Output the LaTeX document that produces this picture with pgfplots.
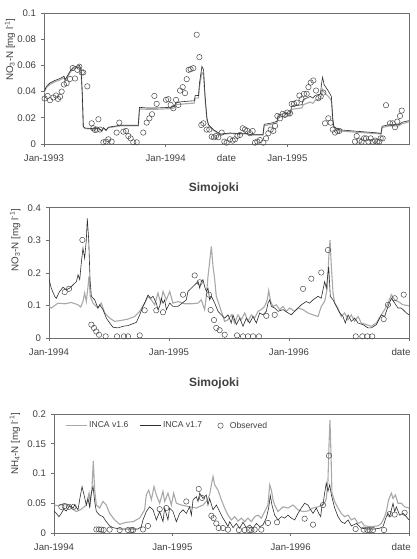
\documentclass[border=0pt]{standalone}
\usepackage{fontspec}
\setmainfont{Liberation Sans}
\usepackage{pgfplots}
\pgfplotsset{compat=1.18}
\definecolor{darkline}{HTML}{2E2E2E}
\definecolor{lightline}{HTML}{A9A9A9}
\definecolor{framec}{HTML}{6E6E6E}
\definecolor{obsc}{HTML}{4A4A4A}
\definecolor{txt}{HTML}{404040}
\pgfplotsset{
  myaxis/.style={
    scale only axis, anchor=south west,
    axis line style={framec, line width=0.6pt},
    tick style={framec, line width=0.6pt},
    tick align=outside, major tick length=3pt,
    xtick pos=bottom, ytick pos=left,
    minor tick num=0,
    scaled y ticks=false,
    tick label style={font=\fontsize{9.6}{11}\selectfont, text=txt},
    xticklabel style={yshift=-4.5pt},
    yticklabel style={xshift=-1.5pt},
    label style={font=\fontsize{9.8}{11}\selectfont, text=txt},
    xlabel={date},
    xlabel style={anchor=south},
  },
  v16/.style={lightline, line width=1.1pt, no markers,
    legend image code/.code={\draw[##1] (0cm,0cm) -- (0.74cm,0cm);}},
  v17/.style={darkline, line width=0.6pt, no markers,
    legend image code/.code={\draw[##1] (0cm,0cm) -- (0.74cm,0cm);}},
  obs/.style={only marks, mark=o, mark size=2.7pt, mark options={obsc, line width=0.5pt},
    legend image code/.code={\path (0cm,0cm) (0.5cm,0cm); \draw[##1] plot coordinates {(0.25cm,0cm)};}},
}
\begin{document}
\begin{tikzpicture}
\useasboundingbox (0,0) rectangle (416pt,559pt);
% ---------------- Panel 1 ----------------
\begin{axis}[myaxis, at={(44pt,415pt)}, width=365pt, height=131pt,
  xmin=1993, xmax=1996, ymin=0, ymax=0.1,
  xtick={1993,1994,1995}, xticklabels={Jan-1993,Jan-1994,Jan-1995},
  ytick={0,0.02,0.04,0.06,0.08,0.1}, yticklabels={0,0.02,0.04,0.06,0.08,0.1},
  xlabel style={at={(xticklabel cs:0.5)}},
  ylabel={NO\textsubscript{3}-N [mg l\textsuperscript{-1}]},
  ylabel style={at={(axis description cs:-0.093,0.72)}, anchor=center},
]
\addplot[v16] coordinates {
(1993.000,0.039) (1993.02,0.0430) (1993.049,0.0455) (1993.09,0.0475) (1993.132,0.0490) (1993.165,0.0505) (1993.173,0.0480) (1993.214,0.0545) (1993.241,0.0575) (1993.269,0.0582) (1993.291,0.0588) (1993.305,0.0560) (1993.315,0.0370) (1993.323,0.0130) (1993.337,0.0118) (1993.406,0.0113) (1993.447,0.0118) (1993.475,0.0100) (1993.49,0.0120) (1993.51,0.0102) (1993.529,0.0124) (1993.626,0.0138) (1993.775,0.0138) (1993.785,0.0268) (1993.845,0.0265) (1993.928,0.0265) (1994.037,0.0270) (1994.070,0.0275) (1994.085,0.0300) (1994.174,0.0308) (1994.235,0.0312) (1994.243,0.0350) (1994.270,0.0350) (1994.278,0.0440) (1994.298,0.0545) (1994.311,0.0530) (1994.325,0.0335) (1994.339,0.0190) (1994.352,0.0140) (1994.393,0.0104) (1994.449,0.0072) (1994.531,0.0080) (1994.60,0.0076) (1994.65,0.0078) (1994.70,0.0069) (1994.80,0.0069) (1994.81,0.0140) (1994.87,0.0150) (1994.915,0.0162) (1994.925,0.0205) (1995.025,0.0215) (1995.035,0.0265) (1995.121,0.0275) (1995.130,0.0300) (1995.189,0.0320) (1995.21,0.0310) (1995.230,0.0335) (1995.272,0.0345) (1995.282,0.0380) (1995.290,0.0415) (1995.302,0.0395) (1995.340,0.0360) (1995.362,0.0330) (1995.373,0.0190) (1995.381,0.0128) (1995.422,0.0100) (1995.533,0.0092) (1995.642,0.0085) (1995.751,0.0078) (1995.770,0.0075) (1995.779,0.0125) (1995.834,0.0138) (1995.916,0.0138) (1995.944,0.0155) (1995.998,0.0168)
};
\addplot[v17] coordinates {
(1993.000,0.040) (1993.02,0.0440) (1993.049,0.0466) (1993.09,0.0485) (1993.132,0.0500) (1993.165,0.0517) (1993.173,0.0490) (1993.214,0.0555) (1993.241,0.0586) (1993.269,0.0593) (1993.291,0.0600) (1993.305,0.0567) (1993.315,0.0376) (1993.323,0.0135) (1993.337,0.0122) (1993.406,0.0117) (1993.447,0.0122) (1993.475,0.0102) (1993.49,0.0125) (1993.51,0.0105) (1993.529,0.0128) (1993.626,0.0143) (1993.775,0.0143) (1993.785,0.0280) (1993.845,0.0275) (1993.928,0.0275) (1994.037,0.0280) (1994.070,0.0288) (1994.085,0.0318) (1994.174,0.0326) (1994.235,0.0330) (1994.243,0.0371) (1994.270,0.0370) (1994.278,0.0466) (1994.298,0.0593) (1994.311,0.0567) (1994.325,0.0350) (1994.339,0.0198) (1994.352,0.0147) (1994.393,0.0109) (1994.449,0.0076) (1994.531,0.0084) (1994.60,0.0080) (1994.65,0.0082) (1994.70,0.0072) (1994.80,0.0072) (1994.81,0.0150) (1994.87,0.0160) (1994.915,0.0173) (1994.925,0.0224) (1995.025,0.0237) (1995.035,0.0288) (1995.121,0.0300) (1995.130,0.0338) (1995.189,0.0363) (1995.21,0.0350) (1995.230,0.0371) (1995.272,0.0382) (1995.282,0.0466) (1995.290,0.0510) (1995.302,0.0453) (1995.340,0.0400) (1995.362,0.0363) (1995.373,0.0198) (1995.381,0.0135) (1995.422,0.0109) (1995.533,0.0100) (1995.642,0.0092) (1995.751,0.0084) (1995.770,0.0080) (1995.779,0.0135) (1995.834,0.0147) (1995.916,0.0147) (1995.944,0.0166) (1995.998,0.0178)
};
\addplot[obs] coordinates {
(1993.005,0.0347) (1993.030,0.0367) (1993.049,0.0334) (1993.077,0.0355) (1993.099,0.0370) (1993.115,0.0344) (1993.132,0.0360) (1993.145,0.0400) (1993.164,0.0454) (1993.186,0.0464) (1993.214,0.0497) (1993.236,0.0580) (1993.255,0.0500) (1993.274,0.0566) (1993.290,0.0590) (1993.310,0.0546) (1993.323,0.0546) (1993.356,0.0440) (1993.392,0.0158) (1993.405,0.0120) (1993.419,0.0107) (1993.433,0.0110) (1993.447,0.0189) (1993.460,0.0110) (1993.488,0.0013) (1993.510,0.0018) (1993.529,0.0036) (1993.556,0.0018) (1993.597,0.0087) (1993.619,0.0163) (1993.652,0.0094) (1993.674,0.0100) (1993.693,0.0061) (1993.712,0.0043) (1993.734,0.0013) (1993.762,0.0013) (1993.816,0.0087) (1993.844,0.0163) (1993.866,0.0196) (1993.888,0.0227) (1993.907,0.0367) (1993.926,0.0306) (1994.003,0.0337) (1994.022,0.0342) (1994.041,0.0298) (1994.063,0.0273) (1994.085,0.0337) (1994.104,0.0298) (1994.118,0.0408) (1994.140,0.0434) (1994.159,0.0388) (1994.173,0.0495) (1994.189,0.0566) (1994.205,0.0571) (1994.227,0.0579) (1994.255,0.0834) (1994.277,0.0663) (1994.293,0.0145) (1994.310,0.0158) (1994.337,0.0110) (1994.359,0.0110) (1994.378,0.0056) (1994.397,0.0051) (1994.414,0.0061) (1994.433,0.0051) (1994.460,0.0087) (1994.482,0.0018) (1994.501,0.0010) (1994.529,0.0036) (1994.551,0.0026) (1994.570,0.0036) (1994.589,0.0061) (1994.611,0.0069) (1994.633,0.0120) (1994.652,0.0110) (1994.671,0.0100) (1994.693,0.0082) (1994.715,0.0099) (1994.734,0.0010) (1994.753,0.0018) (1994.775,0.0030) (1994.803,0.0010) (1994.825,0.0043) (1994.844,0.0082) (1994.863,0.0110) (1994.885,0.0100) (1994.899,0.0138) (1994.918,0.0214) (1994.940,0.0196) (1994.962,0.0230) (1994.981,0.0222) (1995.000,0.0240) (1995.022,0.0235) (1995.036,0.0306) (1995.055,0.0306) (1995.077,0.0316) (1995.099,0.0370) (1995.118,0.0342) (1995.137,0.0383) (1995.159,0.0383) (1995.173,0.0434) (1995.192,0.0469) (1995.214,0.0485) (1995.236,0.0408) (1995.255,0.0350) (1995.274,0.0362) (1995.296,0.0393) (1995.310,0.0158) (1995.337,0.0196) (1995.356,0.0163) (1995.373,0.0110) (1995.392,0.0087) (1995.411,0.0100) (1995.427,0.0100) (1995.556,0.0018) (1995.570,0.0061) (1995.592,0.0026) (1995.611,0.0018) (1995.630,0.0043) (1995.647,0.0043) (1995.666,0.0018) (1995.685,0.0043) (1995.701,0.0018) (1995.721,0.0026) (1995.740,0.0018) (1995.756,0.0018) (1995.767,0.0043) (1995.784,0.0043) (1995.811,0.0296) (1995.844,0.0158) (1995.866,0.0158) (1995.885,0.0128) (1995.904,0.0171) (1995.926,0.0214) (1995.940,0.0255)
};
\end{axis}
% ---------------- Panel 2 ----------------
\begin{axis}[myaxis, at={(49pt,221pt)}, width=360pt, height=130.3pt,
  xmin=1994, xmax=1997, ymin=0, ymax=0.4,
  xtick={1994,1995,1996,1997}, xticklabels={Jan-1994,Jan-1995,Jan-1996,{}},
  ytick={0,0.1,0.2,0.3,0.4}, yticklabels={0,0.1,0.2,0.3,0.4},
  xlabel style={at={(xticklabel cs:0.978)}},
  ylabel={NO\textsubscript{3}-N [mg l\textsuperscript{-1}]},
  ylabel style={at={(axis description cs:-0.094,0.75)}, anchor=center},
  title={Simojoki},
  title style={font=\bfseries\fontsize{12}{13}\selectfont, text=txt, at={(axis description cs:0.458,1.10)}, anchor=center},
]
\addplot[v16] coordinates {
(1994.000,0.097) (1994.019,0.092) (1994.075,0.107) (1994.131,0.105) (1994.186,0.109) (1994.242,0.102) (1994.264,0.095) (1994.283,0.112) (1994.297,0.138) (1994.311,0.112) (1994.325,0.158) (1994.333,0.189) (1994.344,0.128) (1994.367,0.107) (1994.408,0.092) (1994.436,0.107) (1994.464,0.077) (1994.506,0.061) (1994.547,0.051) (1994.603,0.054) (1994.658,0.058) (1994.714,0.066) (1994.756,0.082) (1994.797,0.107) (1994.825,0.128) (1994.853,0.117) (1994.881,0.102) (1994.908,0.138) (1994.931,0.107) (1994.950,0.143) (1994.978,0.117) (1995.006,0.143) (1995.033,0.107) (1995.075,0.112) (1995.131,0.105) (1995.186,0.105) (1995.242,0.107) (1995.269,0.117) (1995.297,0.087) (1995.311,0.128) (1995.325,0.189) (1995.339,0.235) (1995.353,0.281) (1995.367,0.219) (1995.381,0.179) (1995.394,0.128) (1995.422,0.097) (1995.464,0.051) (1995.492,0.056) (1995.519,0.071) (1995.547,0.046) (1995.575,0.071) (1995.603,0.056) (1995.631,0.077) (1995.658,0.051) (1995.686,0.071) (1995.714,0.061) (1995.742,0.082) (1995.769,0.087) (1995.797,0.097) (1995.819,0.117) (1995.831,0.146) (1995.847,0.112) (1995.867,0.097) (1995.894,0.102) (1995.922,0.087) (1995.950,0.097) (1995.978,0.082) (1996.006,0.092) (1996.047,0.082) (1996.075,0.092) (1996.117,0.087) (1996.158,0.077) (1996.200,0.071) (1996.242,0.066) (1996.269,0.097) (1996.297,0.112) (1996.319,0.153) (1996.331,0.245) (1996.342,0.301) (1996.353,0.219) (1996.367,0.138) (1996.381,0.107) (1996.408,0.092) (1996.436,0.066) (1996.464,0.077) (1996.492,0.056) (1996.519,0.071) (1996.547,0.051) (1996.575,0.066) (1996.603,0.046) (1996.644,0.041) (1996.686,0.036) (1996.728,0.046) (1996.769,0.071) (1996.797,0.087) (1996.825,0.107) (1996.853,0.133) (1996.881,0.117) (1996.908,0.112) (1996.950,0.102) (1997.000,0.099)
};
\addplot[v17] coordinates {
(1994.000,0.181) (1994.019,0.153) (1994.047,0.128) (1994.061,0.122) (1994.089,0.143) (1994.117,0.156) (1994.144,0.148) (1994.172,0.153) (1994.200,0.163) (1994.228,0.173) (1994.242,0.194) (1994.256,0.179) (1994.269,0.230) (1994.283,0.276) (1994.297,0.245) (1994.311,0.301) (1994.319,0.367) (1994.331,0.301) (1994.342,0.179) (1994.353,0.128) (1994.381,0.117) (1994.408,0.092) (1994.422,0.102) (1994.450,0.087) (1994.478,0.061) (1994.506,0.046) (1994.533,0.033) (1994.575,0.031) (1994.617,0.036) (1994.658,0.038) (1994.700,0.044) (1994.728,0.048) (1994.756,0.071) (1994.783,0.097) (1994.797,0.107) (1994.825,0.132) (1994.847,0.122) (1994.867,0.128) (1994.894,0.107) (1994.908,0.087) (1994.922,0.097) (1994.936,0.122) (1994.950,0.107) (1994.964,0.117) (1994.978,0.087) (1995.006,0.107) (1995.033,0.097) (1995.075,0.097) (1995.117,0.109) (1995.144,0.117) (1995.158,0.143) (1995.186,0.153) (1995.214,0.163) (1995.242,0.173) (1995.256,0.153) (1995.269,0.173) (1995.283,0.179) (1995.297,0.158) (1995.311,0.143) (1995.325,0.153) (1995.339,0.117) (1995.353,0.128) (1995.381,0.107) (1995.408,0.082) (1995.436,0.071) (1995.464,0.061) (1995.492,0.071) (1995.519,0.046) (1995.533,0.071) (1995.561,0.041) (1995.589,0.061) (1995.617,0.036) (1995.644,0.061) (1995.672,0.046) (1995.700,0.066) (1995.728,0.046) (1995.756,0.077) (1995.783,0.071) (1995.811,0.082) (1995.825,0.107) (1995.839,0.117) (1995.853,0.097) (1995.881,0.092) (1995.908,0.082) (1995.950,0.087) (1995.992,0.077) (1996.019,0.071) (1996.061,0.087) (1996.103,0.102) (1996.144,0.112) (1996.172,0.107) (1996.200,0.117) (1996.242,0.128) (1996.269,0.122) (1996.297,0.173) (1996.311,0.153) (1996.331,0.219) (1996.344,0.128) (1996.367,0.117) (1996.394,0.097) (1996.422,0.077) (1996.450,0.066) (1996.469,0.046) (1996.492,0.071) (1996.519,0.051) (1996.547,0.061) (1996.575,0.046) (1996.617,0.041) (1996.658,0.031) (1996.686,0.031) (1996.728,0.041) (1996.769,0.071) (1996.797,0.066) (1996.825,0.097) (1996.853,0.122) (1996.881,0.107) (1996.908,0.092) (1996.936,0.092) (1996.978,0.077) (1997.000,0.071)
};
\addplot[obs] coordinates {
(1994.131,0.141) (1994.167,0.151) (1994.278,0.301) (1994.353,0.041) (1994.375,0.031) (1994.394,0.020) (1994.417,0.010) (1994.472,0.005) (1994.567,0.005) (1994.625,0.005) (1994.658,0.005) (1994.756,0.008) (1994.797,0.085) (1994.894,0.085) (1994.950,0.079) (1995.117,0.133) (1995.214,0.192) (1995.256,0.171) (1995.333,0.133) (1995.347,0.086) (1995.375,0.055) (1995.394,0.031) (1995.422,0.024) (1995.464,0.010) (1995.567,0.008) (1995.617,0.005) (1995.658,0.005) (1995.700,0.005) (1995.750,0.005) (1995.811,0.068) (1995.881,0.071) (1996.117,0.151) (1996.186,0.182) (1996.269,0.201) (1996.325,0.270) (1996.556,0.005) (1996.611,0.005) (1996.653,0.005) (1996.694,0.005) (1996.789,0.058) (1996.825,0.102) (1996.881,0.122) (1996.956,0.133)
};
\end{axis}
% ---------------- Panel 3 ----------------
\begin{axis}[myaxis, at={(54pt,26pt)}, width=355pt, height=119pt,
  xmin=1994, xmax=1997, ymin=0, ymax=0.2,
  xtick={1994,1995,1996,1997}, xticklabels={Jan-1994,Jan-1995,Jan-1996,{}},
  ytick={0,0.05,0.1,0.15,0.2}, yticklabels={0,0.05,0.1,0.15,0.2},
  xlabel style={at={(xticklabel cs:0.978)}},
  ylabel={NH\textsubscript{4}-N [mg l\textsuperscript{-1}]},
  ylabel style={at={(axis description cs:-0.11,0.75)}, anchor=center},
  title={Simojoki},
  title style={font=\bfseries\fontsize{12}{13}\selectfont, text=txt, at={(axis description cs:0.451,1.205)}, anchor=center},
  legend style={at={(axis description cs:0.022,0.97)}, anchor=north west, draw=none, fill=none,
    font=\fontsize{8.6}{10}\selectfont, text=txt, legend columns=3,
    /tikz/every even column/.append style={column sep=9pt}},
]
\addplot[v16] coordinates {
(1994.000,0.047) (1994.034,0.046) (1994.076,0.048) (1994.118,0.047) (1994.161,0.040) (1994.189,0.036) (1994.231,0.040) (1994.273,0.047) (1994.296,0.067) (1994.307,0.050) (1994.321,0.075) (1994.332,0.121) (1994.344,0.072) (1994.358,0.047) (1994.386,0.042) (1994.414,0.053) (1994.442,0.047) (1994.470,0.033) (1994.513,0.022) (1994.555,0.0146) (1994.611,0.018) (1994.668,0.019) (1994.724,0.025) (1994.766,0.039) (1994.780,0.064) (1994.800,0.072) (1994.823,0.056) (1994.845,0.078) (1994.865,0.064) (1994.893,0.050) (1994.921,0.070) (1994.935,0.053) (1994.963,0.067) (1994.992,0.047) (1995.011,0.067) (1995.034,0.050) (1995.076,0.047) (1995.146,0.044) (1995.203,0.042) (1995.259,0.047) (1995.287,0.053) (1995.315,0.064) (1995.330,0.081) (1995.344,0.095) (1995.358,0.081) (1995.386,0.072) (1995.414,0.056) (1995.442,0.042) (1995.470,0.030) (1995.499,0.022) (1995.527,0.0275) (1995.555,0.020) (1995.583,0.025) (1995.611,0.019) (1995.639,0.025) (1995.668,0.019) (1995.696,0.0275) (1995.724,0.030) (1995.752,0.025) (1995.780,0.036) (1995.808,0.047) (1995.823,0.081) (1995.837,0.072) (1995.851,0.056) (1995.865,0.047) (1995.893,0.036) (1995.935,0.044) (1995.977,0.042) (1996.020,0.047) (1996.062,0.039) (1996.104,0.036) (1996.146,0.037) (1996.189,0.042) (1996.231,0.044) (1996.265,0.047) (1996.287,0.050) (1996.301,0.058) (1996.315,0.087) (1996.324,0.148) (1996.332,0.190) (1996.341,0.131) (1996.349,0.067) (1996.372,0.053) (1996.400,0.042) (1996.428,0.033) (1996.456,0.0275) (1996.485,0.030) (1996.513,0.022) (1996.541,0.025) (1996.569,0.016) (1996.597,0.019) (1996.625,0.012) (1996.682,0.0107) (1996.738,0.012) (1996.766,0.016) (1996.789,0.025) (1996.808,0.036) (1996.828,0.056) (1996.851,0.067) (1996.865,0.058) (1996.885,0.064) (1996.907,0.050) (1996.935,0.050) (1996.963,0.044) (1997.000,0.042)
};
\addlegendentry{INCA v1.6}
\addplot[v17] coordinates {
(1994.000,0.037) (1994.020,0.033) (1994.042,0.0275) (1994.062,0.033) (1994.082,0.040) (1994.104,0.037) (1994.132,0.046) (1994.161,0.042) (1994.175,0.047) (1994.203,0.039) (1994.217,0.056) (1994.237,0.078) (1994.254,0.064) (1994.273,0.047) (1994.287,0.058) (1994.301,0.044) (1994.315,0.067) (1994.330,0.078) (1994.344,0.053) (1994.358,0.036) (1994.386,0.030) (1994.414,0.0275) (1994.442,0.019) (1994.470,0.012) (1994.499,0.009) (1994.555,0.0067) (1994.639,0.0067) (1994.710,0.0067) (1994.738,0.0107) (1994.752,0.022) (1994.780,0.036) (1994.808,0.044) (1994.837,0.039) (1994.865,0.022) (1994.893,0.036) (1994.921,0.019) (1994.935,0.042) (1994.963,0.022) (1994.977,0.042) (1995.006,0.036) (1995.034,0.019) (1995.062,0.033) (1995.090,0.039) (1995.118,0.033) (1995.146,0.044) (1995.161,0.030) (1995.175,0.056) (1995.203,0.061) (1995.217,0.053) (1995.231,0.067) (1995.259,0.058) (1995.287,0.064) (1995.301,0.047) (1995.315,0.058) (1995.344,0.039) (1995.372,0.047) (1995.400,0.036) (1995.428,0.025) (1995.456,0.016) (1995.470,0.0107) (1995.485,0.019) (1995.513,0.009) (1995.541,0.016) (1995.569,0.008) (1995.597,0.018) (1995.625,0.009) (1995.654,0.0135) (1995.682,0.008) (1995.710,0.016) (1995.738,0.0107) (1995.766,0.0135) (1995.794,0.025) (1995.814,0.042) (1995.828,0.063) (1995.842,0.047) (1995.865,0.030) (1995.893,0.022) (1995.921,0.0275) (1995.949,0.025) (1995.977,0.030) (1996.006,0.025) (1996.034,0.022) (1996.062,0.033) (1996.090,0.042) (1996.118,0.050) (1996.146,0.047) (1996.169,0.039) (1996.189,0.033) (1996.217,0.042) (1996.237,0.033) (1996.254,0.0275) (1996.265,0.047) (1996.273,0.047) (1996.287,0.067) (1996.301,0.084) (1996.315,0.070) (1996.330,0.081) (1996.344,0.064) (1996.372,0.042) (1996.400,0.0275) (1996.428,0.019) (1996.456,0.016) (1996.485,0.022) (1996.513,0.012) (1996.555,0.016) (1996.597,0.008) (1996.654,0.0067) (1996.710,0.0067) (1996.752,0.008) (1996.780,0.0107) (1996.794,0.019) (1996.808,0.0275) (1996.823,0.033) (1996.837,0.0275) (1996.865,0.050) (1996.879,0.036) (1996.893,0.044) (1996.921,0.030) (1996.949,0.033) (1996.977,0.0275) (1997.000,0.022)
};
\addlegendentry{INCA v1.7}
\addplot[obs] coordinates {
(1994.062,0.044) (1994.090,0.0455) (1994.127,0.044) (1994.166,0.044) (1994.358,0.006) (1994.380,0.006) (1994.400,0.0056) (1994.420,0.005) (1994.470,0.0056) (1994.555,0.005) (1994.625,0.005) (1994.654,0.005) (1994.668,0.005) (1994.752,0.006) (1994.794,0.012) (1994.893,0.040) (1994.949,0.042) (1995.118,0.053) (1995.223,0.074) (1995.251,0.059) (1995.330,0.029) (1995.349,0.025) (1995.372,0.016) (1995.392,0.0084) (1995.428,0.0084) (1995.470,0.0056) (1995.563,0.005) (1995.611,0.005) (1995.648,0.005) (1995.668,0.005) (1995.696,0.0056) (1995.752,0.0056) (1995.808,0.017) (1995.885,0.018) (1996.118,0.024) (1996.189,0.014) (1996.273,0.047) (1996.324,0.130) (1996.549,0.0067) (1996.617,0.0056) (1996.648,0.005) (1996.668,0.005) (1996.696,0.005) (1996.789,0.005) (1996.837,0.032) (1996.879,0.031) (1996.963,0.034)
};
\addlegendentry{Observed}
\end{axis}
\end{tikzpicture}
\end{document}
